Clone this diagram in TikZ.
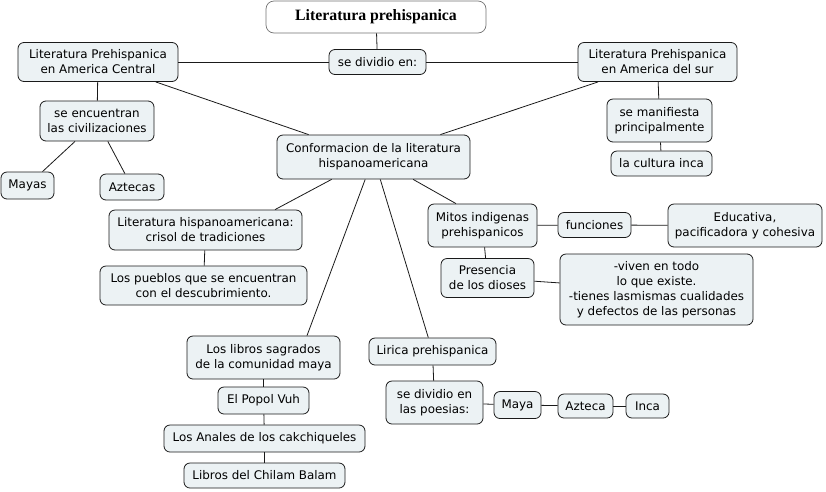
\documentclass[tikz,border=0pt]{standalone}
\usepackage{fontspec}
\setmainfont{DejaVu Sans}
\newfontfamily\titlefont{Liberation Serif}
\definecolor{boxfill}{HTML}{ECF2F4}
\definecolor{boxline}{HTML}{1A1A1A}
\begin{document}
\begin{tikzpicture}[x=1pt,y=-1pt,
  box/.style={draw=boxline, fill=boxfill, rounded corners=6pt, align=center,
    font=\fontsize{11.9}{15}\selectfont, inner sep=1pt, line width=0.8pt},
  titlebox/.style={draw=black!55, fill=white, rounded corners=8pt, align=center,
    font=\titlefont\bfseries\fontsize{15.8}{18}\selectfont, line width=0.7pt},
  link/.style={draw=boxline, line width=0.8pt},
  sz/.style 2 args={minimum width=#1pt, minimum height=#2pt}]
\useasboundingbox (0,0) rectangle (826,491);

\node[titlebox, sz={220}{32}] (title) at (376,17) {Literatura prehispanica};
\node[box, sz={97}{25}] (sediv) at (377.5,62) {se dividio en:};
\node[box, sz={160}{39}] (central) at (98,62) {Literatura Prehispanica\\en America Central};
\node[box, sz={159}{39}] (sur) at (657.5,62) {Literatura Prehispanica\\en America del sur};
\node[box, sz={114}{40}] (seenc) at (97,121) {se encuentran\\las civilizaciones};
\node[box, sz={53}{27}] (mayas) at (27.5,185.5) {Mayas};
\node[box, sz={64}{26}] (aztecas) at (132,187) {Aztecas};
\node[box, sz={193}{44}] (conf) at (373.5,157) {Conformacion de la literatura\\hispanoamericana};
\node[box, sz={105}{43}] (seman) at (659.5,120.5) {se manifiesta\\principalmente};
\node[box, sz={101}{25}] (cinca) at (661.5,163.5) {la cultura inca};
\node[box, sz={193}{40}] (lith) at (205.5,230) {Literatura hispanoamericana:\\crisol de tradiciones};
\node[box, sz={207}{39}] (pueblos) at (203.5,285.5) {Los pueblos que se encuentran\\con el descubrimiento.};
\node[box, sz={109}{43}] (mitos) at (482.5,225.5) {Mitos indigenas\\prehispanicos};
\node[box, sz={73}{25}] (func) at (594.5,225) {funciones};
\node[box, sz={154}{43}] (educ) at (745,225.5) {Educativa,\\pacificadora y cohesiva};
\node[box, sz={93}{39}] (pres) at (487.5,278) {Presencia\\de los dioses};
\node[box, sz={193}{71}] (viven) at (656.5,289.5) {-viven en todo\\lo que existe.\\-tienes lasmismas cualidades\\y defectos de las personas};
\node[box, sz={153}{43}] (libros) at (263.5,357.5) {Los libros sagrados\\de la comunidad maya};
\node[box, sz={91}{27}] (popol) at (263.5,400.5) {El Popol Vuh};
\node[box, sz={201}{27}] (anales) at (264.5,438.5) {Los Anales de los cakchiqueles};
\node[box, sz={161}{25}] (chilam) at (264.5,475.5) {Libros del Chilam Balam};
\node[box, sz={127}{27}] (lirica) at (432.5,351.5) {Lirica prehispanica};
\node[box, sz={97}{43}] (poes) at (434.5,402.5) {se dividio en\\las poesias:};
\node[box, sz={47}{27}] (maya) at (517.5,405) {Maya};
\node[box, sz={55}{24}] (azt) at (585.5,406) {Azteca};
\node[box, sz={43}{24}] (inca) at (647.5,406) {Inca};

\coordinate (xlith) at (275,0);
\coordinate (xlibros) at (307,0);
\coordinate (xmitos) at (456,0);

\path[link] (title) -- (sediv);
\path[link] (sediv) -- (central);
\path[link] (sediv) -- (sur);
\path[link] (central) -- (seenc);
\path[link] (seenc) -- (mayas);
\path[link] (seenc) -- (aztecas);
\path[link] (central) -- (conf);
\path[link] (sur) -- (conf);
\path[link] (sur) -- (seman);
\path[link] (seman) -- (cinca);
\path[link] (conf) -- (lith.north -| xlith);
\path[link] (conf) -- (libros.north -| xlibros);
\path[link] (conf) -- (lirica);
\path[link] (conf) -- (mitos.north -| xmitos);
\path[link] (lith) -- (pueblos);
\path[link] (mitos) -- (func);
\path[link] (func) -- (educ);
\path[link] (mitos) -- (pres);
\path[link] (pres) -- (viven);
\path[link] (libros) -- (popol);
\path[link] (popol) -- (anales);
\path[link] (anales) -- (chilam);
\path[link] (lirica) -- (poes);
\path[link] (poes) -- (maya);
\path[link] (maya) -- (azt);
\path[link] (azt) -- (inca);
\end{tikzpicture}
\end{document}
